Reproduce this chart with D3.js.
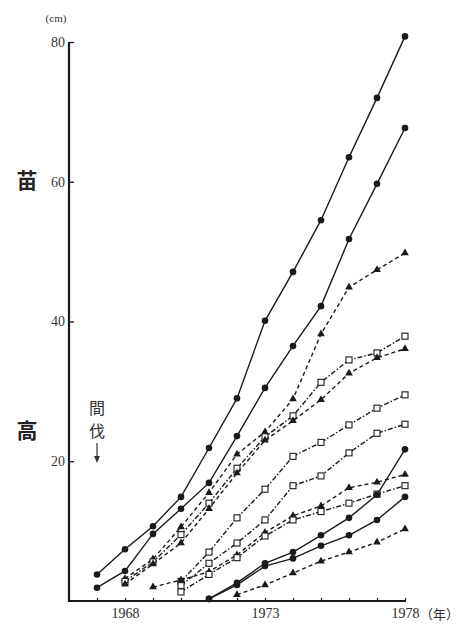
<!DOCTYPE html>
<html>
<head>
<meta charset="utf-8">
<script src="https://cdn.jsdelivr.net/npm/d3@7"></script>
<style>
  html, body { margin: 0; padding: 0; background: #fff; }
  svg { display: block; }
</style>
</head>
<body>
<svg id="chart" width="459" height="625"></svg>
<script>
// Survey years (x) and seedling heights in cm (y); null = not yet measured
const years = [1967, 1968, 1969, 1970, 1971, 1972, 1973, 1974, 1975, 1976, 1977, 1978];

const plotA = [3.8, 7.4, 10.7, 14.9, 21.9, 29.0, 40.1, 47.1, 54.5, 63.5, 72.0, 80.8];
const plotB = [1.9, 4.3, 9.6, 13.2, 16.9, 23.6, 30.5, 36.5, 42.2, 51.8, 59.7, 67.7];
const plotC = [null, 3.2, 6.0, 10.6, 15.5, 21.0, 24.2, 28.9, 38.2, 44.9, 47.4, 49.8];
const plotD = [null, 2.8, 5.6, 9.5, 14.0, 19.0, 23.5, 26.5, 31.3, 34.5, 35.5, 37.9];
const plotE = [null, 2.4, 5.3, 8.3, 13.2, 18.3, 23.0, 25.8, 28.8, 32.6, 34.8, 36.1];
const plotF = [null, null, null, 2.8, 7.0, 11.9, 16.0, 20.7, 22.7, 25.2, 27.6, 29.5];
const plotG = [null, null, null, 2.2, 5.4, 8.3, 11.6, 16.5, 17.9, 21.2, 24.0, 25.3];
const plotH = [null, null, 2.0, 3.0, 4.2, 6.6, 9.8, 12.2, 13.6, 16.2, 17.0, 18.1];
const plotI = [null, null, null, 1.3, 3.8, 6.2, 9.3, 11.6, 12.8, 14.0, 15.3, 16.5];
const plotJ = [null, null, null, null, 0.3, 2.6, 5.4, 7.0, 9.4, 11.9, 15.2, 21.7];
const plotK = [null, null, null, null, 0.3, 2.3, 5.0, 6.1, 7.9, 9.4, 11.6, 14.9];
const plotL = [null, null, null, null, null, 0.9, 2.3, 4.0, 5.7, 7.0, 8.4, 10.3];

const yTicks = [20, 40, 60, 80];
const xLabelYears = [1968, 1973, 1978];

// line style + marker per plot: solid/circle, dashed/triangle, dash-dot/open square
const series = [
  { values: plotA, kind: "circle" },
  { values: plotB, kind: "circle" },
  { values: plotC, kind: "triangle" },
  { values: plotD, kind: "square" },
  { values: plotE, kind: "triangle" },
  { values: plotF, kind: "square" },
  { values: plotG, kind: "square" },
  { values: plotH, kind: "triangle" },
  { values: plotI, kind: "square" },
  { values: plotJ, kind: "circle" },
  { values: plotK, kind: "circle" },
  { values: plotL, kind: "triangle" }
];

const dashFor = { circle: null, triangle: "4,3", square: "5,2,1.5,2" };
const ink = "#1a1a1a";
const serif = "'Liberation Serif', 'DejaVu Serif', serif";
const cjk = "'Noto Sans CJK JP', 'Noto Sans CJK SC', sans-serif";

const svg = d3.select("#chart");

const x = d3.scaleLinear().domain([1966, 1978]).range([69, 405]);
const y = d3.scaleLinear().domain([0, 80]).range([601, 42]);

// x axis
const xAxis = d3.axisBottom(x)
  .tickValues(years)
  .tickSizeInner(-3)
  .tickSizeOuter(0)
  .tickPadding(7)
  .tickFormat(d => xLabelYears.includes(d) ? String(d) : "");

const gx = svg.append("g").attr("transform", `translate(0,${y(0)})`).call(xAxis);
gx.select(".domain").attr("stroke", ink).attr("stroke-width", 2.2)
  .attr("d", `M${x(1966)},0H${x(1978) + 1}`);
gx.selectAll(".tick line").attr("stroke", ink).attr("stroke-width", 1.2);
gx.selectAll(".tick text").attr("fill", "#2a2a2a").attr("font-family", serif).attr("font-size", 14);

svg.append("text")
  .attr("x", 420).attr("y", 619)
  .attr("font-family", cjk).attr("font-size", 13).attr("fill", "#2a2a2a")
  .text("（年）");

// y axis
const yAxis = d3.axisLeft(y)
  .tickValues(yTicks)
  .tickSizeInner(-5)
  .tickSizeOuter(0)
  .tickPadding(4);

const gy = svg.append("g").attr("transform", `translate(${x(1966)},0)`).call(yAxis);
gy.select(".domain").attr("stroke", ink).attr("stroke-width", 2.2)
  .attr("d", `M0,${y(80)}V${y(0) + 1}`);
gy.selectAll(".tick line").attr("stroke", ink).attr("stroke-width", 1.3);
gy.selectAll(".tick text").attr("fill", "#3a3a3a").attr("font-family", serif).attr("font-size", 14);

svg.append("text")
  .attr("x", 56).attr("y", 22).attr("text-anchor", "middle")
  .attr("font-family", serif).attr("font-size", 11).attr("fill", "#333")
  .text("(cm)");

// vertical axis title
svg.append("text")
  .attr("x", 27).attr("y", 188).attr("text-anchor", "middle")
  .attr("font-family", cjk).attr("font-size", 21).attr("font-weight", 700).attr("fill", "#222")
  .text("苗");
svg.append("text")
  .attr("x", 27).attr("y", 438).attr("text-anchor", "middle")
  .attr("font-family", cjk).attr("font-size", 21).attr("font-weight", 700).attr("fill", "#222")
  .text("高");

// thinning annotation
svg.append("text")
  .attr("x", x(1967)).attr("y", 414).attr("text-anchor", "middle")
  .attr("font-family", cjk).attr("font-size", 16).attr("fill", "#333")
  .text("間");
svg.append("text")
  .attr("x", x(1967)).attr("y", 437).attr("text-anchor", "middle")
  .attr("font-family", cjk).attr("font-size", 16).attr("fill", "#333")
  .text("伐");
svg.append("line")
  .attr("x1", x(1967)).attr("x2", x(1967))
  .attr("y1", 443).attr("y2", 458)
  .attr("stroke", "#333").attr("stroke-width", 1.2);
svg.append("path")
  .attr("d", `M${x(1967) - 3},456L${x(1967) + 3},456L${x(1967)},463Z`)
  .attr("fill", "#333");

// plot lines
const line = d3.line()
  .defined(d => d.v !== null)
  .x(d => x(d.year))
  .y(d => y(d.v));

const triangle = d3.symbol().type(d3.symbolTriangle).size(26);

series.forEach(s => {
  const pts = years.map((year, i) => ({ year, v: s.values[i] }));
  const shown = pts.filter(d => d.v !== null);
  const g = svg.append("g");

  g.append("path")
    .datum(shown)
    .attr("d", line)
    .attr("fill", "none")
    .attr("stroke", ink)
    .attr("stroke-width", 1.4)
    .attr("stroke-dasharray", dashFor[s.kind]);

  if (s.kind === "circle") {
    g.selectAll("circle").data(shown).join("circle")
      .attr("cx", d => x(d.year)).attr("cy", d => y(d.v))
      .attr("r", 3.3).attr("fill", ink);
  } else if (s.kind === "triangle") {
    g.selectAll("path.mk").data(shown).join("path")
      .attr("class", "mk")
      .attr("transform", d => `translate(${x(d.year)},${y(d.v)})`)
      .attr("d", triangle)
      .attr("fill", ink);
  } else {
    g.selectAll("rect").data(shown).join("rect")
      .attr("x", d => x(d.year) - 3).attr("y", d => y(d.v) - 3)
      .attr("width", 6).attr("height", 6)
      .attr("fill", "#fff").attr("stroke", ink).attr("stroke-width", 1.1);
  }
});
</script>
</body>
</html>
